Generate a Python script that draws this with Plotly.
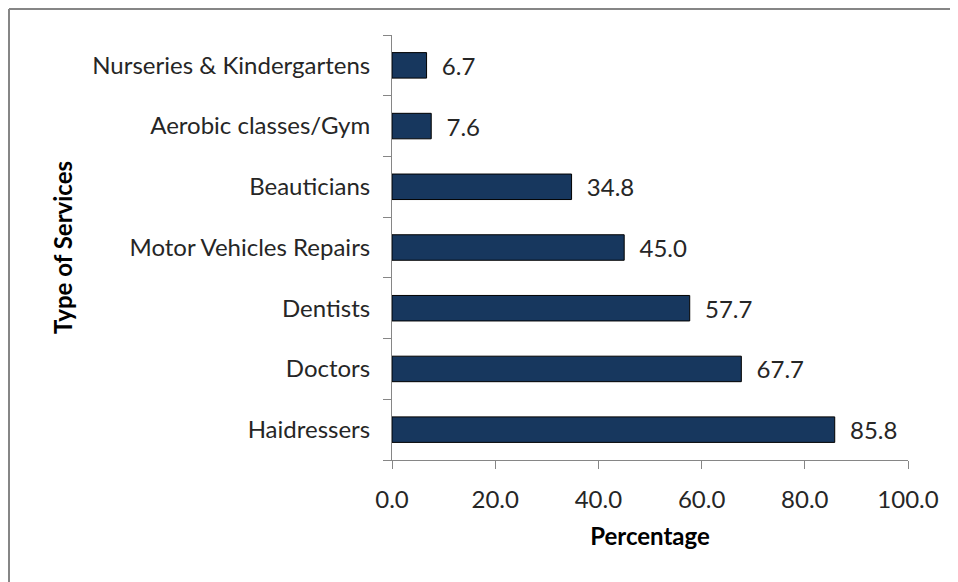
import plotly.graph_objects as go

services = ["Haidressers", "Doctors", "Dentists", "Motor Vehicles Repairs",
            "Beauticians", "Aerobic classes/Gym", "Nurseries & Kindergartens"]
percentages = [85.8, 67.7, 57.7, 45.0, 34.8, 7.6, 6.7]
x_ticks = [0, 20, 40, 60, 80, 100]

FONT = "Lato"
TEXT = "#262626"
AXIS = "#868686"

# page body has an 8px margin; let the figure run past the right/bottom edges
W, H = 990, 620
L, R, T, B = 384, W - 384 - 516, 27, H - 27 - 425
pw, ph = W - L - R, H - T - B

# chart frame: only its left and top edges fall inside the picture
fx0, fx1 = (-L + 1) / pw, (W - L) / pw
fy0, fy1 = -B / ph, 1 + (T - 1) / ph
frame = [
    dict(type="line", xref="paper", yref="paper", x0=fx0, x1=fx0, y0=fy0, y1=fy1,
         line=dict(color="#868686", width=2), layer="below"),
    dict(type="line", xref="paper", yref="paper", x0=fx0, x1=fx1, y0=fy1, y1=fy1,
         line=dict(color="#868686", width=2), layer="below"),
]

fig = go.Figure(go.Bar(
    x=percentages,
    y=services,
    orientation="h",
    marker=dict(color="#17375E", line=dict(color="#000000", width=1)),
    text=["  " + f"{v:.1f}" for v in percentages],
    textposition="outside",
    constraintext="none",
    textfont=dict(family=FONT, size=24, color=TEXT),
    cliponaxis=False,
))

fig.update_layout(
    width=W,
    height=H,
    margin=dict(l=L, r=R, t=T, b=B),
    paper_bgcolor="white",
    plot_bgcolor="white",
    showlegend=False,
    bargap=0.58,
    font=dict(family=FONT, size=24, color=TEXT),
    shapes=frame,
)

fig.update_xaxes(
    range=[0, 100],
    tickvals=x_ticks,
    ticktext=[f"{v:.1f}" for v in x_ticks],
    showgrid=False,
    zeroline=False,
    showline=True,
    linecolor=AXIS,
    linewidth=1,
    ticks="outside",
    ticklen=8,
    tickcolor=AXIS,
    ticklabelstandoff=10,
    tickfont=dict(family=FONT, size=24, color=TEXT),
    title=dict(text="<b>Percentage</b>", font=dict(family=FONT, size=24, color="#000000"),
               standoff=16),
)

fig.update_yaxes(
    categoryorder="array",
    categoryarray=services,
    showgrid=False,
    showline=True,
    linecolor=AXIS,
    linewidth=1,
    ticks="outside",
    tickson="boundaries",
    ticklen=8,
    tickcolor=AXIS,
    ticklabelstandoff=16,
    tickfont=dict(family=FONT, size=24, color=TEXT),
    title=dict(text="<b>Type of Services</b>", font=dict(family=FONT, size=24, color="#000000"),
               standoff=12),
)

fig.write_html("out.html")
